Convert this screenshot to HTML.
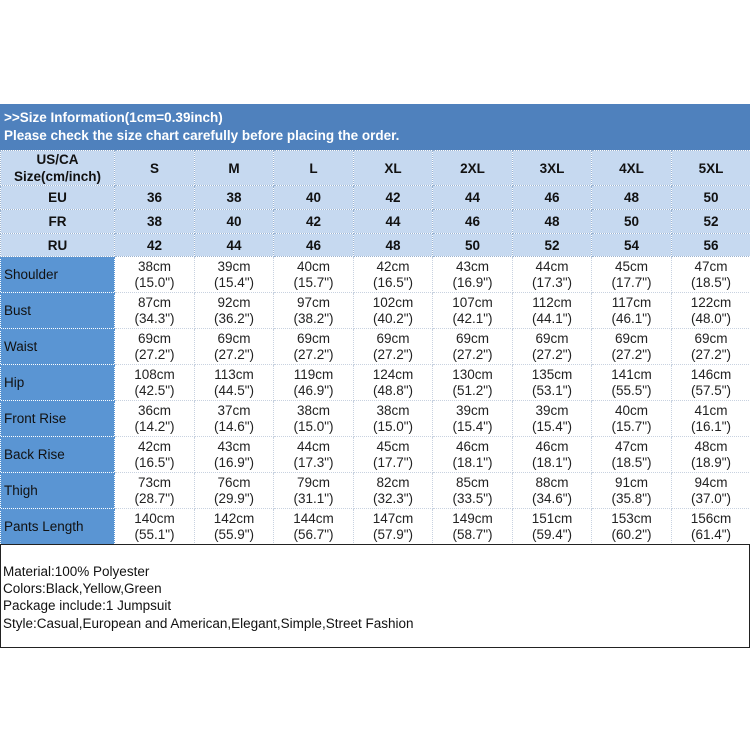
<!DOCTYPE html>
<html><head><meta charset="utf-8"><style>
*{margin:0;padding:0;box-sizing:border-box}
body{width:750px;height:750px;background:#fff;position:relative;overflow:hidden;font-family:"Liberation Sans",Arial,sans-serif}
.hdr{position:absolute;left:0;top:104px;width:750px;height:46px;background:#4f81bd;color:#fff;font-weight:bold;font-size:13.5px;padding:5px 0 0 4px;line-height:18px}
table{position:absolute;left:0;top:150px;border-collapse:collapse;table-layout:fixed;width:750px}
td{border:1px dotted #9bb3d0;text-align:center;padding:0;overflow:hidden;white-space:nowrap}
tr.h td{background:#c6d9f0;font-weight:bold;font-size:13.5px;color:#111}
tr.d td{font-size:13.5px;color:#222;line-height:16px;height:36px;border-color:#c8d2e0}
tr.d td.l{background:#5a95d3;text-align:left;padding-left:3px;color:#111;font-size:13.5px;border-color:#5a95d3}
.box{position:absolute;left:0;top:544px;width:750px;height:104px;border:1.5px solid #222;font-size:13.5px;line-height:17.2px;padding:18px 0 0 2px;color:#111}
</style></head><body>
<div class="hdr">&gt;&gt;Size Information(1cm=0.39inch)<br>Please check the size chart carefully before placing the order.</div>
<table>
<colgroup><col style="width:114px"><col style="width:80px"><col style="width:79px"><col style="width:80px"><col style="width:79px"><col style="width:80px"><col style="width:79px"><col style="width:80px"><col style="width:79px"></colgroup>
<tr class="h" style="height:35px"><td style="line-height:17px">US/CA<br>Size(cm/inch)</td><td>S</td><td>M</td><td>L</td><td>XL</td><td>2XL</td><td>3XL</td><td>4XL</td><td>5XL</td></tr>
<tr class="h" style="height:24px"><td>EU</td><td>36</td><td>38</td><td>40</td><td>42</td><td>44</td><td>46</td><td>48</td><td>50</td></tr>
<tr class="h" style="height:24px"><td>FR</td><td>38</td><td>40</td><td>42</td><td>44</td><td>46</td><td>48</td><td>50</td><td>52</td></tr>
<tr class="h" style="height:23px"><td>RU</td><td>42</td><td>44</td><td>46</td><td>48</td><td>50</td><td>52</td><td>54</td><td>56</td></tr>
<tr class="d"><td class="l">Shoulder</td><td>38cm<br>(15.0")</td><td>39cm<br>(15.4")</td><td>40cm<br>(15.7")</td><td>42cm<br>(16.5")</td><td>43cm<br>(16.9")</td><td>44cm<br>(17.3")</td><td>45cm<br>(17.7")</td><td>47cm<br>(18.5")</td></tr>
<tr class="d"><td class="l">Bust</td><td>87cm<br>(34.3")</td><td>92cm<br>(36.2")</td><td>97cm<br>(38.2")</td><td>102cm<br>(40.2")</td><td>107cm<br>(42.1")</td><td>112cm<br>(44.1")</td><td>117cm<br>(46.1")</td><td>122cm<br>(48.0")</td></tr>
<tr class="d"><td class="l">Waist</td><td>69cm<br>(27.2")</td><td>69cm<br>(27.2")</td><td>69cm<br>(27.2")</td><td>69cm<br>(27.2")</td><td>69cm<br>(27.2")</td><td>69cm<br>(27.2")</td><td>69cm<br>(27.2")</td><td>69cm<br>(27.2")</td></tr>
<tr class="d"><td class="l">Hip</td><td>108cm<br>(42.5")</td><td>113cm<br>(44.5")</td><td>119cm<br>(46.9")</td><td>124cm<br>(48.8")</td><td>130cm<br>(51.2")</td><td>135cm<br>(53.1")</td><td>141cm<br>(55.5")</td><td>146cm<br>(57.5")</td></tr>
<tr class="d"><td class="l">Front Rise</td><td>36cm<br>(14.2")</td><td>37cm<br>(14.6")</td><td>38cm<br>(15.0")</td><td>38cm<br>(15.0")</td><td>39cm<br>(15.4")</td><td>39cm<br>(15.4")</td><td>40cm<br>(15.7")</td><td>41cm<br>(16.1")</td></tr>
<tr class="d"><td class="l">Back Rise</td><td>42cm<br>(16.5")</td><td>43cm<br>(16.9")</td><td>44cm<br>(17.3")</td><td>45cm<br>(17.7")</td><td>46cm<br>(18.1")</td><td>46cm<br>(18.1")</td><td>47cm<br>(18.5")</td><td>48cm<br>(18.9")</td></tr>
<tr class="d"><td class="l">Thigh</td><td>73cm<br>(28.7")</td><td>76cm<br>(29.9")</td><td>79cm<br>(31.1")</td><td>82cm<br>(32.3")</td><td>85cm<br>(33.5")</td><td>88cm<br>(34.6")</td><td>91cm<br>(35.8")</td><td>94cm<br>(37.0")</td></tr>
<tr class="d"><td class="l">Pants Length</td><td>140cm<br>(55.1")</td><td>142cm<br>(55.9")</td><td>144cm<br>(56.7")</td><td>147cm<br>(57.9")</td><td>149cm<br>(58.7")</td><td>151cm<br>(59.4")</td><td>153cm<br>(60.2")</td><td>156cm<br>(61.4")</td></tr>
</table>
<div class="box">Material:100% Polyester<br>Colors:Black,Yellow,Green<br>Package include:1 Jumpsuit<br>Style:Casual,European and American,Elegant,Simple,Street Fashion</div>
</body></html>
